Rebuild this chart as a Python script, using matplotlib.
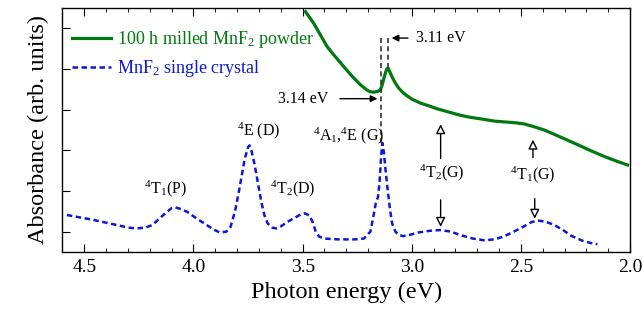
import matplotlib
matplotlib.use("Agg")
import matplotlib.pyplot as plt
from matplotlib.ticker import MultipleLocator, NullFormatter

plt.rcParams['font.family'] = ['Liberation Serif', 'DejaVu Serif']
plt.rcParams['mathtext.fontset'] = 'custom'
plt.rcParams['mathtext.rm'] = 'Liberation Serif'
plt.rcParams['mathtext.it'] = 'Liberation Serif'

# Single crystal (blue dashed)
crystal_E = [4.58, 4.52, 4.459, 4.40, 4.34, 4.30, 4.26, 4.22, 4.19, 4.16, 4.13, 4.10, 4.085,
             4.06, 4.03, 3.99, 3.95, 3.91, 3.88, 3.85, 3.83, 3.81, 3.795, 3.78, 3.765, 3.75,
             3.743, 3.735, 3.72, 3.705, 3.69, 3.675, 3.66, 3.64, 3.62, 3.60, 3.57, 3.54, 3.51,
             3.49, 3.47, 3.455, 3.44, 3.425, 3.40, 3.34, 3.26, 3.22, 3.19, 3.175, 3.165, 3.155,
             3.148, 3.14, 3.135, 3.128, 3.12, 3.11, 3.10, 3.09, 3.075, 3.06, 3.04, 3.01, 2.97,
             2.92, 2.87, 2.82, 2.78, 2.72, 2.67, 2.62, 2.58, 2.54, 2.49, 2.45, 2.42, 2.39, 2.35,
             2.31, 2.27, 2.22, 2.18, 2.15]
crystal_A = [0.91, 0.85, 0.79, 0.72, 0.65, 0.60, 0.58, 0.60, 0.66, 0.80, 0.95, 1.08, 1.10,
             1.06, 0.99, 0.84, 0.70, 0.56, 0.48, 0.50, 0.62, 1.00, 1.40, 1.85, 2.30, 2.58,
             2.62, 2.50, 2.15, 1.70, 1.25, 0.90, 0.70, 0.60, 0.58, 0.63, 0.74, 0.83, 0.92,
             0.95, 0.90, 0.75, 0.50, 0.38, 0.33, 0.31, 0.31, 0.33, 0.50, 0.90, 1.20, 1.35,
             1.70, 2.40, 2.68, 2.45, 2.00, 1.50, 1.05, 0.70, 0.50, 0.42, 0.39, 0.42, 0.48,
             0.52, 0.54, 0.50, 0.42, 0.33, 0.29, 0.31, 0.38, 0.48, 0.62, 0.74, 0.77, 0.75, 0.67,
             0.55, 0.40, 0.28, 0.22, 0.19]

# Milled powder (green)
powder_E = [3.487, 3.47, 3.449, 3.42, 3.388, 3.35, 3.312, 3.275, 3.235, 3.205, 3.19, 3.174,
            3.155, 3.144, 3.135, 3.125, 3.115, 3.108, 3.10, 3.09, 3.075, 3.06, 3.037, 3.00,
            2.96, 2.92, 2.883, 2.83, 2.777, 2.73, 2.68, 2.624, 2.58, 2.53, 2.486, 2.44, 2.394,
            2.35, 2.30, 2.241, 2.18, 2.119, 2.06, 2.012]
powder_A = [5.91, 5.78, 5.62, 5.35, 5.05, 4.80, 4.56, 4.33, 4.11, 3.98, 3.94, 3.93,
            3.95, 3.99, 4.12, 4.33, 4.50, 4.52, 4.42, 4.30, 4.15, 4.03, 3.90, 3.76,
            3.66, 3.59, 3.52, 3.44, 3.36, 3.31, 3.27, 3.22, 3.20, 3.18, 3.15, 3.08, 3.00,
            2.90, 2.78, 2.64, 2.49, 2.35, 2.23, 2.14]

labels = ['100 h milled MnF$_2$ powder', 'MnF$_2$ single crystal']

fig = plt.figure(figsize=(6.43, 3.26), dpi=100)
ax = fig.add_axes([0.0972, 0.227, 0.8828, 0.7485])

ax.plot(powder_E, powder_A, color='#007a10', lw=2.3, label=labels[0])
ax.plot(crystal_E, crystal_A, color='#0a18d8', lw=1.8, ls=(0, (2.2, 1.4)), label=labels[1])

ax.set_xlim(4.6, 2.0)
ax.set_ylim(0, 6)
ax.xaxis.set_minor_locator(MultipleLocator(0.1))
ax.set_xticks([4.5, 4.0, 3.5, 3.0, 2.5, 2.0])
ax.set_xticklabels(['4.5', '4.0', '3.5', '3.0', '2.5', '2.0'], fontsize=14)
ax.set_yticks([0.5, 1.5, 2.5, 3.5, 4.5, 5.5])
ax.yaxis.set_major_formatter(NullFormatter())
ax.tick_params(axis='x', which='both', direction='in', top=True, bottom=True, pad=5)
ax.tick_params(axis='x', which='major', length=6)
ax.tick_params(axis='x', which='minor', length=3)
ax.tick_params(axis='y', direction='in', left=True, right=False, length=6)
for s in ax.spines.values():
    s.set_linewidth(1.0)

ax.set_xlabel('Photon energy (eV)', fontsize=17.5, labelpad=4)
ax.set_ylabel('Absorbance (arb. units)', fontsize=17.5, labelpad=6)

leg = ax.legend(loc='upper left', bbox_to_anchor=(-0.006, 0.965), frameon=False,
                fontsize=13, handlelength=2.2, handletextpad=0.33, labelspacing=0.45,
                borderaxespad=0.3)
for t, c in zip(leg.get_texts(), ['#007a10', '#0a18d8']):
    t.set_color(c)

# vertical dashed markers
ax.vlines(3.14, 2.68, 5.26, colors='#333333', linestyles=(0, (3, 2)), lw=1.2)
ax.vlines(3.11, 4.52, 5.26, colors='#333333', linestyles=(0, (3, 2)), lw=1.2)
ax.annotate('', xy=(3.105, 5.26), xytext=(3.005, 5.26),
            arrowprops=dict(arrowstyle='-|>', color='black', lw=1.0, mutation_scale=10))
ax.text(2.98, 5.26, '3.11 eV', fontsize=11.5, va='center', ha='left')
ax.annotate('', xy=(3.145, 3.77), xytext=(3.342, 3.77),
            arrowprops=dict(arrowstyle='-|>', color='black', lw=1.0, mutation_scale=10))
ax.text(3.383, 3.77, '3.14 eV', fontsize=11.5, va='center', ha='right')

# transition labels
ax.text(3.703, 2.97, '$^4$E (D)', fontsize=11.5, ha='center', va='center')
ax.text(4.130, 1.55, '$^4$T$_1$(P)', fontsize=11.5, ha='center', va='center')
ax.text(3.545, 1.55, '$^4$T$_2$(D)', fontsize=11.5, ha='center', va='center')
ax.text(3.290, 2.87, '$^4$A$_1$,$^4$E (G)', fontsize=11.5, ha='center', va='center')
ax.text(2.862, 1.95, '$^4$T$_2$(G)', fontsize=11.5, ha='center', va='center')
ax.text(2.445, 1.90, '$^4$T$_1$(G)', fontsize=11.5, ha='center', va='center')

ap = dict(arrowstyle='-|>', color='black', lw=1.0, mutation_scale=14, fc='white')
ax.annotate('', xy=(2.868, 3.21), xytext=(2.868, 2.23), arrowprops=ap)
ax.annotate('', xy=(2.868, 0.55), xytext=(2.868, 1.35), arrowprops=ap)
ax.annotate('', xy=(2.445, 2.83), xytext=(2.445, 2.25), arrowprops=ap)
ax.annotate('', xy=(2.437, 0.75), xytext=(2.437, 1.38), arrowprops=ap)

fig.savefig('out.png', dpi=100)
